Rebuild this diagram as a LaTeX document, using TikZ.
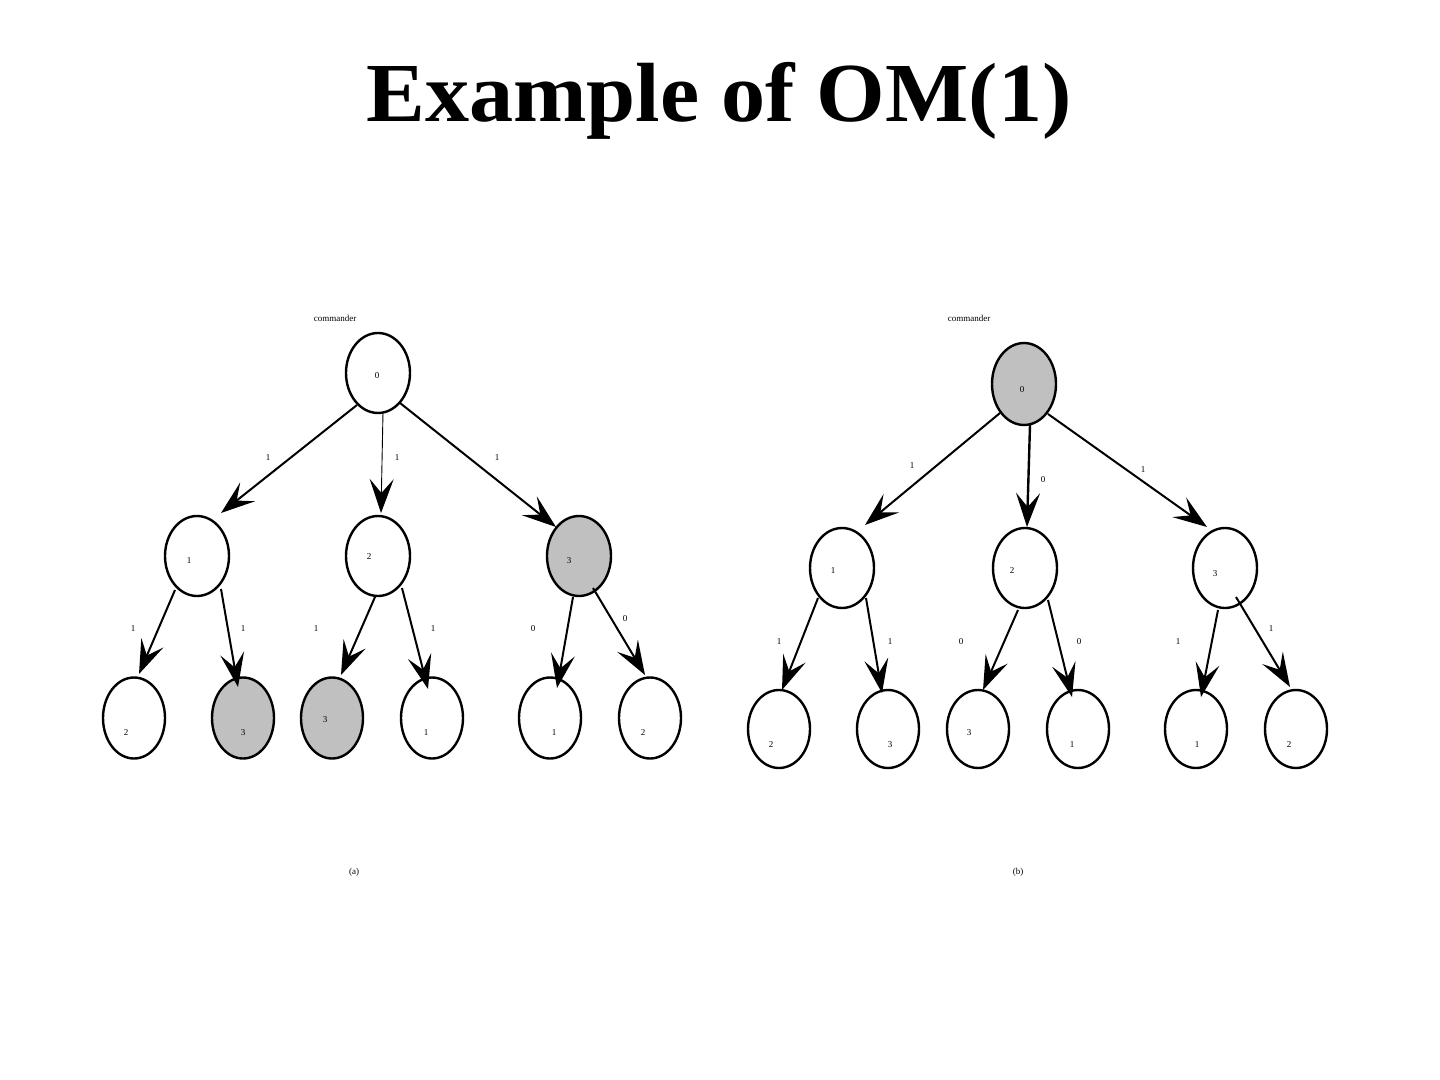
\documentclass[tikz,border=0pt]{standalone}
\usepackage{fontspec}
\setmainfont{Liberation Serif}
\newfontfamily\titlefont[FakeStretch=1.05]{Liberation Serif}
\usepackage{xcolor}
\usetikzlibrary{arrows.meta, calc, shapes.geometric}
\definecolor{faulty}{RGB}{192,192,192}

\begin{document}
\begin{tikzpicture}[
  x=0.5pt, y=-0.5pt,
  >={Stealth[length=17pt, width=12pt, inset=7pt]},
  vtx/.style={draw, ellipse, line width=1.2pt, fill=white, inner sep=0pt,
              minimum width=32pt, minimum height=40pt},
  lvtx/.style={vtx, minimum width=31pt, minimum height=40.5pt},
  bad/.style={fill=faulty},
  num/.style={font=\fontsize{4.5}{5}\selectfont, inner sep=0pt},
  arr/.style={->, line width=1pt},
  thin arr/.style={->, line width=0.45pt},
]
\useasboundingbox (0,0) rectangle (1440,1080);

% ============ TITLE ============
\node[font=\titlefont\fontsize{42}{48}\selectfont\bfseries, anchor=base, inner sep=0pt]
  (title) at (719,122) {Example of OM(1)};

% ============ TREE (a) ============

% Commander
\node[num] (cmda) at (335,318) {commander};
\node[vtx] (a0) at (378,373) {};
\node[num] (ta0) at (377,376) {0};

% Lieutenants
\node[vtx] (a1) at (197,556) {};
\node[vtx] (a2) at (378,556) {};
\node[vtx, bad] (a3) at (579,556) {};
\node[num] (ta1) at (189,561) {1};
\node[num] (ta2) at (369,557) {2};
\node[num] (ta3) at (569,561) {3};

% Second round
\node[lvtx] (a12) at (134,718) {};
\node[lvtx, bad] (a13) at (243,718) {};
\node[lvtx, bad] (a23) at (332,718) {};
\node[lvtx] (a21) at (432,718) {};
\node[lvtx] (a31) at (550,718) {};
\node[lvtx] (a32) at (650,718) {};
\node[num] (ta12) at (126,733) {2};
\node[num] (ta13) at (243,733) {3};
\node[num] (ta23) at (325,720) {3};
\node[num] (ta21) at (426,733) {1};
\node[num] (ta31) at (554,733) {1};
\node[num] (ta32) at (643,733) {2};

% Arrows (ends offset from the node centres, in px)
\draw[arr] ($(a0)+(-21,32)$) -- ($(a1)+(24,-43)$);
\draw[thin arr] ($(a0)+(5,39)$) -- ($(a2)+(3,-43)$);
\draw[arr] ($(a0)+(22,30)$) -- ($(a3)+(-23,-29)$);
\draw[arr] ($(a1)+(-22,34)$) -- ($(a12)+(5,-44)$);
\draw[arr] ($(a1)+(24,33)$) -- ($(a13)+(-5,-31)$);
\draw[arr] ($(a2)+(-3,41)$) -- ($(a23)+(9,-43)$);
\draw[arr] ($(a2)+(24,32)$) -- ($(a21)+(-4,-29)$);
\draw[arr] ($(a3)+(-6,41)$) -- ($(a31)+(7,-30)$);
\draw[arr] ($(a3)+(14,32)$) -- ($(a32)+(-5,-43)$);

% Message values
\node[num] (ma1) at (268,458) {1};
\node[num] (ma2) at (397,458) {1};
\node[num] (ma3) at (497,458) {1};
\node[num] (ma12) at (133,629) {1};
\node[num] (ma13) at (243,629) {1};
\node[num] (ma23) at (316,629) {1};
\node[num] (ma21) at (433,629) {1};
\node[num] (ma31) at (533,629) {0};
\node[num] (ma32) at (625,619) {0};

\node[num] (capa) at (354,872) {(a)};

% ============ TREE (b) ============

% Commander
\node[num] (cmdb) at (969,318) {commander};
\node[vtx, bad, minimum height=41pt] (b0) at (1024,384) {};
\node[num] (tb0) at (1022,390) {0};

% Lieutenants
\node[vtx] (b1) at (842,568) {};
\node[vtx] (b2) at (1025,568) {};
\node[vtx] (b3) at (1225,568) {};
\node[num] (tb1) at (833,571) {1};
\node[num] (tb2) at (1012,571) {2};
\node[num] (tb3) at (1215,574) {3};

% Second round
\node[lvtx, minimum height=39pt] (b12) at (779,729) {};
\node[lvtx, minimum height=39pt] (b13) at (888,729) {};
\node[lvtx, minimum height=39pt] (b23) at (978,729) {};
\node[lvtx, minimum height=39pt] (b21) at (1078,729) {};
\node[lvtx, minimum height=39pt] (b31) at (1196,729) {};
\node[lvtx, minimum height=39pt] (b32) at (1296,729) {};
\node[num] (tb12) at (771,745) {2};
\node[num] (tb13) at (890,745) {3};
\node[num] (tb23) at (969,733) {3};
\node[num] (tb21) at (1072,745) {1};
\node[num] (tb31) at (1197,745) {1};
\node[num] (tb32) at (1289,745) {2};

% Arrows
\draw[arr] ($(b0)+(-24,29)$) -- ($(b1)+(23,-43)$);
\draw[arr, line width=1.2pt] ($(b0)+(6,41)$) -- ($(b2)+(2,-41)$);
\draw[arr] ($(b0)+(24,30)$) -- ($(b3)+(-18,-41)$);
\draw[arr] ($(b1)+(-24,30)$) -- ($(b12)+(3,-39)$);
\draw[arr] ($(b1)+(24,30)$) -- ($(b13)+(-6,-36)$);
\draw[arr] ($(b2)+(-7,42)$) -- ($(b23)+(5,-39)$);
\draw[arr] ($(b2)+(23,32)$) -- ($(b21)+(-6,-32)$);
\draw[arr] ($(b3)+(-7,42)$) -- ($(b31)+(5,-32)$);
\draw[arr] ($(b3)+(11,29)$) -- ($(b32)+(-6,-42)$);

% Message values
\node[num] (mb1) at (912,466) {1};
\node[num] (mb2) at (1043,480) {0};
\node[num] (mb3) at (1143,470) {1};
\node[num] (mb12) at (779,642) {1};
\node[num] (mb13) at (890,642) {1};
\node[num] (mb23) at (961,642) {0};
\node[num] (mb21) at (1079,642) {0};
\node[num] (mb31) at (1178,642) {1};
\node[num] (mb32) at (1271,629) {1};

\node[num] (capb) at (1018,872) {(b)};

\end{tikzpicture}
\end{document}
